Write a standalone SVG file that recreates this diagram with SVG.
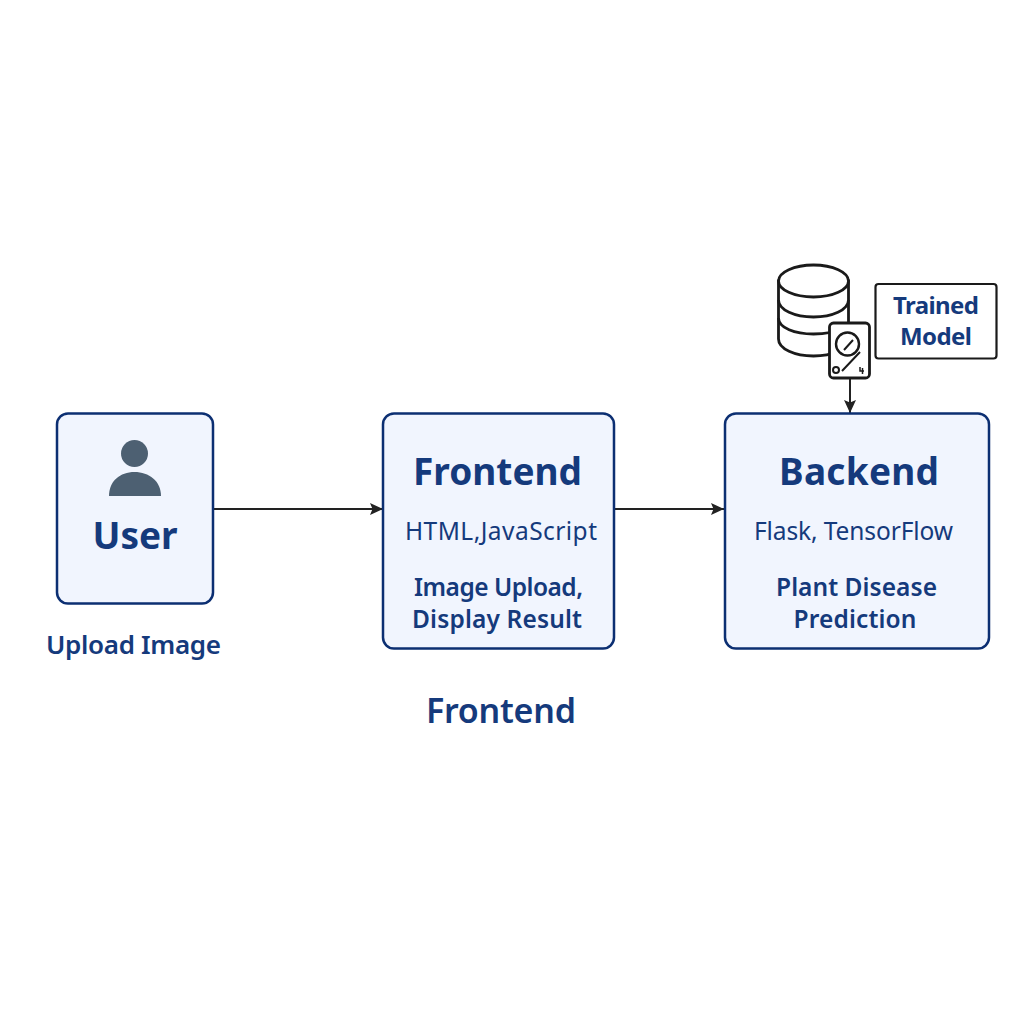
<svg xmlns="http://www.w3.org/2000/svg" width="1024" height="1024" viewBox="0 0 1024 1024">
<style>
.box{fill:#f1f5fe;stroke:#0c2f72;stroke-width:2.500}
text{font-family:"Noto Sans","Open Sans","Liberation Sans",sans-serif;fill:#153a7c;text-anchor:middle}
.h{font-size:37px;font-weight:700}
.s{font-size:24.500px;font-weight:400}
.b{font-size:24.500px;font-weight:600}
.l{stroke:#222;stroke-width:2;fill:none}
.i{stroke:#1a1a1a;stroke-width:2.800;fill:#fff}
</style>
<defs><marker id="a" markerUnits="userSpaceOnUse" markerWidth="13" markerHeight="12" refX="13" refY="6" orient="auto"><path d="M0 0L13 6L0 12L2.500 6z" fill="#222"/></marker></defs>
<rect width="1024" height="1024" fill="#fff"/>
<g id="connectors">
<path class="l" d="M213 509H383" marker-end="url(#a)"/>
<path class="l" d="M614 509H724" marker-end="url(#a)"/>
<path class="l" d="M850 378V413" marker-end="url(#a)"/>
</g>
<g id="user">
<rect class="box" x="57" y="413.500" width="156" height="190" rx="11"/>
<circle cx="134.500" cy="453.500" r="13.500" fill="#4d6072"/>
<path d="M109 496C109 481 120 472 134.500 472C149 472 161 481 161 496Z" fill="#4d6072"/>
<text class="h" x="135" y="549" textLength="85">User</text>
</g>
<text id="upload-image" x="133.500" y="654" style="font-size:26px;font-weight:600" textLength="175">Upload Image</text>
<g id="frontend">
<rect class="box" x="383" y="413.500" width="231" height="235" rx="11"/>
<text class="h" x="497.500" y="485" textLength="169">Frontend</text>
<text class="s" x="501" y="540" textLength="192">HTML,JavaScript</text>
<text class="b" x="498.500" y="596" textLength="169">Image Upload,</text>
<text class="b" x="497" y="628" textLength="170">Display Result</text>
</g>
<text id="frontend-caption" x="501" y="722.500" style="font-size:34px;font-weight:600" textLength="150">Frontend</text>
<g id="backend">
<rect class="box" x="725" y="413.500" width="264" height="235" rx="11"/>
<text class="h" x="859" y="485" textLength="160">Backend</text>
<text class="s" x="853.500" y="540" textLength="199">Flask, TensorFlow</text>
<text class="b" x="856.500" y="596" textLength="161">Plant Disease</text>
<text class="b" x="855" y="628" textLength="123">Prediction</text>
</g>
<g id="database">
<path class="i" d="M778.500 281V339C778.500 349 795 356 813.500 356C832 356 848.500 349 848.500 339V281Z"/>
<ellipse class="i" cx="813.500" cy="281" rx="35" ry="16"/>
<path class="i" style="fill:none" d="M778.500 300C778.500 310 795 317 813.500 317C832 317 848.500 310 848.500 300M778.500 318C778.500 328 795 334 813.500 334C819 334 825 333.500 830 332.500"/>
<rect class="i" x="829.500" y="323" width="40" height="55" rx="4"/>
<circle class="i" style="stroke-width:2.400" cx="847.500" cy="344" r="11.500"/>
<path class="l" style="stroke:#1a1a1a" d="M844 350L853 340M842 371L860 352"/>
<circle class="l" style="stroke:#1a1a1a" cx="836" cy="370" r="3"/>
<path class="l" style="stroke:#1a1a1a;stroke-width:1.500" d="M860 367V371H864M862.500 368V374"/>
</g>
<g id="trained-model">
<rect x="875.500" y="284" width="121" height="74.500" rx="3" fill="#fff" stroke="#1a1a1a" stroke-width="2.200"/>
<text x="936" y="314" style="font-size:24px;font-weight:700" textLength="86">Trained</text>
<text x="936" y="345" style="font-size:24px;font-weight:700" textLength="72">Model</text>
</g>
</svg>
